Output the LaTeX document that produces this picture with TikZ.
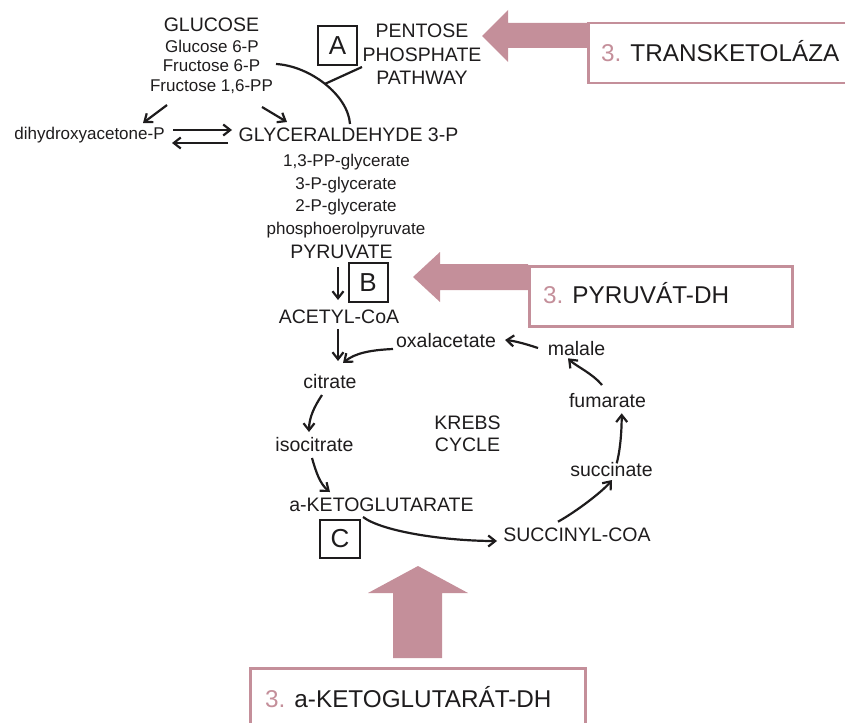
\documentclass[tikz,border=0pt]{standalone}
\usepackage{fontspec}
\setmainfont{Liberation Sans}
\usetikzlibrary{arrows.meta}
\definecolor{rose}{RGB}{196,143,154}
\definecolor{ink}{RGB}{30,28,29}
\newcommand{\Lf}{\fontsize{19.5}{22}\selectfont}
\newcommand{\Sf}{\fontsize{17}{20}\selectfont}
\newcommand{\Xf}{\fontsize{24.3}{28}\selectfont}
\begin{document}
\begin{tikzpicture}[x=1pt,y=-1pt,
  lbl/.style={anchor=base,inner sep=0pt,text=ink,font=\Lf},
  sml/.style={anchor=base,inner sep=0pt,text=ink,font=\Sf},
  enzbox/.style={draw=ink,line width=2pt,minimum width=39pt,minimum height=39pt,inner sep=0pt,font=\fontsize{26}{30}\selectfont,text=ink},
  arr/.style={draw=ink,line width=2.2pt,-{Straight Barb[length=7pt,width=11pt]}},
  plain/.style={draw=ink,line width=2.2pt},
  rosebox/.style={draw=rose,line width=2.5pt,inner sep=0pt,anchor=north west},
  rosetxt/.style={anchor=base west,inner sep=0pt,text=ink,font=\Xf},
  fat/.style={fill=rose,draw=none}
]
\useasboundingbox (0,0) rectangle (845,722);

% glycolysis
\node[lbl] (glucose) at (211.5,32) {GLUCOSE};
\node[sml] (g6p) at (212,53) {Glucose 6-P};
\node[sml] (f6p) at (211.5,72) {Fructose 6-P};
\node[sml] (f16) at (211.5,91.5) {Fructose 1,6-PP};
\node[enzbox] (boxA) at (337.5,45.5) {A};
\node[lbl] (pent1) at (422,38) {PENTOSE};
\node[lbl] (pent2) at (422,61.5) {PHOSPHATE};
\node[lbl] (pent3) at (422,85) {PATHWAY};
\node[sml] (dhap) at (89.5,139.5) {dihydroxyacetone-P};
\node[lbl] (gap) at (348.5,142) {GLYCERALDEHYDE 3-P};
\node[sml] (pg13) at (346.5,167) {1,3-PP-glycerate};
\node[sml] (pg3) at (346,189.3) {3-P-glycerate};
\node[sml] (pg2) at (346,211.7) {2-P-glycerate};
\node[sml] (pep) at (346,234.3) {phosphoerolpyruvate};
\node[lbl] (pyr) at (341.5,258.3) {PYRUVATE};
\node[enzbox] (boxB) at (368,282.5) {B};
\node[lbl] (acetyl) at (339,323.3) {ACETYL-CoA};

% Krebs
\node[lbl] (oxal) at (446,347.3) {oxalacetate};
\node[lbl] (malale) at (576.5,355) {malale};
\node[lbl] (citrate) at (330,388.3) {citrate};
\node[lbl] (fumarate) at (607.5,407.3) {fumarate};
\node[lbl] (krebs) at (467.5,429.3) {KREBS};
\node[lbl] (cycle) at (467.5,451.7) {CYCLE};
\node[lbl] (isocitrate) at (314.5,451) {isocitrate};
\node[lbl] (succinate) at (611.5,476.7) {succinate};
\node[lbl] (aketo) at (381.5,511.7) {a-KETOGLUTARATE};
\node[lbl] (succoa) at (577,541.7) {SUCCINYL-COA};
\node[enzbox,minimum width=40pt,minimum height=38pt] (boxC) at (340,539) {C};

% connectors
\draw[arr] ([shift={(-44.5,13.5)}]f16.base) -- ([shift={(53.5,-16.5)}]dhap.base);
\draw[arr] ([shift={(50.5,15.5)}]f16.base) -- ([shift={(-61.5,-20)}]gap.base);
\draw[arr] ([shift={(83.5,-9.5)}]dhap.base) -- ([shift={(-116.5,-12)}]gap.base);
\draw[arr] ([shift={(-120.5,1)}]gap.base) -- ([shift={(82.5,3.5)}]dhap.base);
\draw[plain] ([shift={(64.5,-8)}]f6p.base) .. controls +(34,2) and +(-2,-29) .. coordinate[pos=0.5] (pj) ([shift={(1.5,-18)}]gap.base);
\draw[plain] (pj) -- ([shift={(-60,5.5)}]pent2.base);
\draw[arr] ([shift={(-3.5,8.7)}]pyr.base) -- ([shift={(-1,-23.3)}]acetyl.base);
\draw[arr] ([shift={(-1,5.7)}]acetyl.base) -- ([shift={(8,-27.3)}]citrate.base);
\draw[arr] ([shift={(-53,1.7)}]oxal.base) .. controls +(-22,1) and +(12,-10) .. ([shift={(13,-25.3)}]citrate.base);
\draw[arr] ([shift={(-8,6.7)}]citrate.base) .. controls +(-8,12) and +(0,-14) .. ([shift={(-5.5,-19)}]isocitrate.base);
\draw[arr] ([shift={(-2.5,7)}]isocitrate.base) .. controls +(4,14) and +(-10,-8) .. ([shift={(-51.5,-19.7)}]aketo.base);
\draw[arr] ([shift={(-18.5,5.3)}]aketo.base) .. controls +(20,15) and +(-50,0) .. ([shift={(-80,-0.7)}]succoa.base);
\draw[arr] ([shift={(-19,-20)}]succoa.base) .. controls +(18,-10) and +(-10,12) .. ([shift={(0.5,3.3)}]succinate.base);
\draw[arr] ([shift={(5.2,-13.4)}]succinate.base) .. controls +(4,-15) and +(0,15) .. ([shift={(14.2,6)}]fumarate.base);
\draw[arr] ([shift={(-5.5,-22.3)}]fumarate.base) .. controls +(-10,-12) and +(8,8) .. ([shift={(-8.5,3.3)}]malale.base);
\draw[arr] ([shift={(-38.5,-7)}]malale.base) .. controls +(-12,-4) and +(10,1) .. ([shift={(59,-7.3)}]oxal.base);

% enzyme call-outs
\fill[fat] (482,36) -- (508,10) -- (508,23) -- (588,23) -- (588,48) -- (508,48) -- (508,62) -- cycle;
\node[rosebox,minimum width=265pt,minimum height=60pt] (e1) at (587,22) {};
\node[rosetxt] (t1) at (601,61.5) {\textcolor{rose}{3.} TRANSKETOLÁZA};

\fill[fat] (413,277) -- (440,252) -- (440,264) -- (528,264) -- (528,290) -- (440,290) -- (440,302) -- cycle;
\node[rosebox,minimum width=263pt,minimum height=60pt] (e2) at (528,265) {};
\node[rosetxt] (t2) at (543,303) {\textcolor{rose}{3.} PYRUVÁT-DH};

\fill[fat] (418,566) -- (468,593) -- (442,593) -- (442,658) -- (393,658) -- (393,593) -- (368,593) -- cycle;
\node[rosebox,minimum width=335pt,minimum height=70pt] (e3) at (249,667) {};
\node[rosetxt] (t3) at (265,707) {\textcolor{rose}{3.} a-KETOGLUTARÁT-DH};
\end{tikzpicture}
\end{document}
